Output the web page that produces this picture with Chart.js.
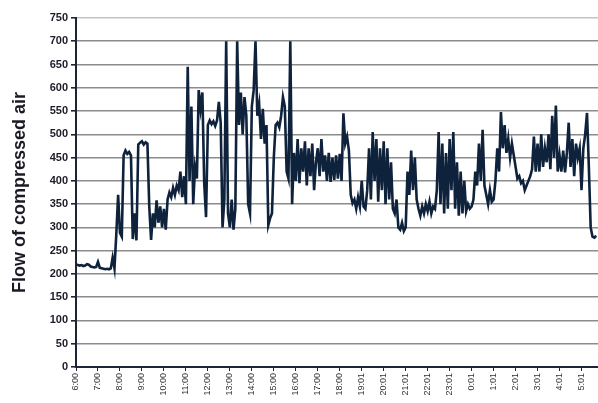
<!DOCTYPE html>
<html>
<head>
<meta charset="utf-8">
<title>Flow of compressed air</title>
<script src="https://cdn.jsdelivr.net/npm/chart.js"></script>
<style>
  html, body { margin: 0; padding: 0; background: #fff; }
</style>
</head>
<body>
<canvas id="airChart" width="598" height="403"></canvas>
<script>
// hour labels under the x axis (one per hour, starting 6:00)
const hourLabels = ['6:00', '7:00', '8:00', '9:00', '10:00', '11:00', '12:00', '13:00', '14:00',
  '15:00', '16:00', '17:00', '18:00', '19:01', '20:01', '21:01', '22:01', '23:01',
  '0:01', '1:01', '2:01', '3:01', '4:01', '5:01']

const yTicks = [0, 50, 100, 150, 200, 250, 300, 350, 400, 450, 500, 550, 600, 650, 700, 750]

// one reading every 5 minutes, first one at 6:00 (one row per hour)
const stepMinutes = 5
const flow = [
  220, 219, 218, 219, 217, 218, 221, 220, 216, 215, 214, 215,   // 6
  226, 213, 212, 211, 210, 211, 210, 212, 235, 212, 285, 370,   // 7
  288, 280, 455, 465, 458, 462, 455, 275, 330, 272, 478, 482,   // 8
  485, 478, 483, 480, 345, 273, 330, 300, 358, 310, 345, 300,   // 9
  340, 295, 360, 375, 365, 385, 370, 390, 380, 420, 365, 410,   // 10
  350, 645, 400, 560, 350, 430, 405, 595, 555, 590, 395, 322,   // 11
  520, 530, 522, 528, 518, 530, 570, 525, 300, 360, 700, 330,   // 12
  300, 360, 295, 340, 700, 520, 590, 500, 580, 540, 350, 330,   // 13
  560, 595, 700, 540, 565, 490, 555, 480, 520, 305, 320, 330,   // 14
  450, 520, 525, 515, 540, 580, 560, 420, 405, 700, 350, 460,   // 15
  400, 490, 395, 470, 420, 485, 390, 470, 410, 480, 380, 440,   // 16
  470, 410, 490, 420, 455, 400, 460, 398, 450, 402, 455, 405,   // 17
  458, 400, 545, 480, 495, 465, 370, 352, 360, 340, 365, 345,   // 18
  400, 345, 340, 380, 470, 360, 505, 400, 490, 355, 470, 380,   // 19
  485, 350, 470, 360, 440, 340, 330, 360, 300, 295, 310, 292,   // 20
  300, 420, 370, 465, 380, 450, 360, 340, 325, 345, 330, 350,   // 21
  335, 355, 330, 345, 340, 380, 505, 350, 480, 330, 460, 340,   // 22
  490, 380, 505, 340, 440, 325, 420, 330, 400, 335, 350, 340,   // 23
  345, 360, 420, 390, 480, 400, 510, 390, 370, 350, 380, 355,   // 0
  360, 400, 470, 420, 548, 470, 520, 460, 490, 450, 480, 455,   // 1
  430, 405, 410, 395, 400, 380, 390, 400, 410, 425, 495, 420,   // 2
  480, 420, 500, 430, 470, 440, 500, 425, 540, 450, 562, 420,   // 3
  455, 420, 465, 418, 460, 525, 430, 490, 410, 480, 450, 470,   // 4
  380, 470, 500, 546, 430, 300, 280, 278, 282                   // 5
]

const points = flow.map((v, i) => ({ x: i * stepMinutes / 60, y: v }))

const axisColor = '#1b2536'
const fontFamily = '"Liberation Sans", Arial, sans-serif'

new Chart(document.getElementById('airChart'), {
  type: 'line',
  data: {
    datasets: [{
      label: 'Flow of compressed air',
      data: points,
      borderColor: '#0e223c',
      borderWidth: 2.6,
      pointRadius: 0,
      tension: 0,
      fill: false,
    }]
  },
  options: {
    responsive: false,
    animation: false,
    layout: { padding: { top: 18, right: 0, left: 0, bottom: 0 } },
    plugins: {
      legend: { display: false },
      tooltip: { enabled: false },
    },
    scales: {
      x: {
        type: 'linear',
        min: 0,
        max: 23.75,
        afterFit: (s) => { s.height = 36 },
        border: { color: axisColor, width: 2 },
        grid: { drawOnChartArea: false, tickLength: 4, tickColor: axisColor },
        ticks: {
          stepSize: 1,
          autoSkip: false,
          includeBounds: false,
          minRotation: 90,
          maxRotation: 90,
          padding: 2,
          color: '#333',
          font: { family: fontFamily, size: 9 },
          callback: (v) => hourLabels[v] ?? '',
        },
      },
      y: {
        min: 0,
        max: 750,
        afterFit: (s) => { s.width = 76 },
        afterBuildTicks: (s) => { s.ticks = yTicks.map(v => ({ value: v })) },
        border: { color: axisColor, width: 2 },
        grid: {
          color: (c) => c.tick && c.tick.value === 750 ? '#c4c4c4' : '#8c8c8c',
          lineWidth: 1.6,
          tickLength: 5,
          tickColor: axisColor,
        },
        ticks: {
          padding: 3,
          color: '#1c1c28',
          font: { family: fontFamily, size: 11, weight: 'bold' },
        },
        title: {
          display: true,
          text: 'Flow of compressed air',
          color: '#1a1a26',
          padding: { top: 9, bottom: 0 },
          font: { family: fontFamily, size: 18, weight: 'bold' },
        },
      },
    },
  },
})
</script>
</body>
</html>
